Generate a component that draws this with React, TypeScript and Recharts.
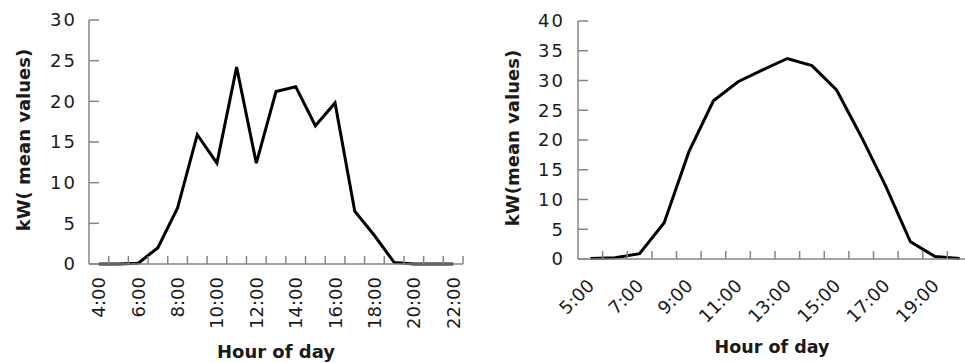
import { Label, Line, LineChart, XAxis, YAxis } from "recharts";

const FONT = "'DejaVu Sans', Verdana, sans-serif";
const AXIS = "#858585";
const INK = "#1a1a1a";

// left panel
const leftHours = [
  "4:00", "5:00", "6:00", "7:00", "8:00", "9:00", "10:00", "11:00", "12:00", "13:00",
  "14:00", "15:00", "16:00", "17:00", "18:00", "19:00", "20:00", "21:00", "22:00",
];
const leftKw = [0, 0, 0.1, 2, 6.9, 15.9, 12.4, 24.2, 12.4, 21.2, 21.8, 17.0, 19.8, 6.5, 3.5, 0.2, 0, 0, 0];
const leftTicks = [0, 5, 10, 15, 20, 25, 30];

// right panel
const rightHours = [
  "5:00", "6:00", "7:00", "8:00", "9:00", "10:00", "11:00", "12:00", "13:00", "14:00",
  "15:00", "16:00", "17:00", "18:00", "19:00", "20:00",
];
const rightKw = [0.1, 0.2, 0.9, 6.1, 18.0, 26.6, 29.8, 31.8, 33.7, 32.5, 28.4, 20.6, 12.2, 2.9, 0.4, 0.1];
const rightTicks = [0, 5, 10, 15, 20, 25, 30, 35, 40];

const leftData = leftHours.map((hour, i) => ({ hour, kw: leftKw[i] }));
const rightData = rightHours.map((hour, i) => ({ hour, kw: rightKw[i] }));

// ticks sit between categories, labels on every other category
function makeTick(band: number, angle: number) {
  return (props: any) => {
    const { x, y, index, payload, visibleTicksCount } = props;
    const left = x - band / 2;
    const isLast = index === visibleTicksCount - 1;
    const tx = angle === -90 ? x : x + 5;
    const ty = angle === -90 ? y + 13 : y + 28;
    return (
      <g>
        {index > 0 && <line x1={left} x2={left} y1={y} y2={y - 8} stroke={AXIS} strokeWidth={1.5} />}
        {isLast && <line x1={x + band / 2} x2={x + band / 2} y1={y} y2={y - 8} stroke={AXIS} strokeWidth={1.5} />}
        {index % 2 === 0 && (
          <text
            x={tx}
            y={ty}
            transform={`rotate(${angle} ${tx} ${ty})`}
            textAnchor="end"
            dominantBaseline={angle === -90 ? "central" : "auto"}
            fill={INK}
            fontSize={18}
            fontFamily={FONT}
          >
            {payload.value}
          </text>
        )}
      </g>
    );
  };
}

function yTitle(text: string, dx: number) {
  return (props: any) => {
    const vb = props.viewBox;
    const x = vb.x + dx;
    const y = vb.y + vb.height / 2 - 2;
    return (
      <text
        x={x}
        y={y}
        transform={`rotate(-90 ${x} ${y})`}
        textAnchor="middle"
        dominantBaseline="central"
        fontWeight="bold"
        fontSize={18}
        fontFamily={FONT}
        fill={INK}
      >
        {text}
      </text>
    );
  };
}

function xTitle(dx: number, size: number) {
  return (props: any) => {
    const vb = props.viewBox;
    return (
      <text
        x={vb.x + vb.width / 2 + dx}
        y={vb.y + 94}
        textAnchor="middle"
        fontWeight="bold"
        fontSize={size}
        fontFamily={FONT}
        fill={INK}
      >
        Hour of day
      </text>
    );
  };
}

const yTick = { fill: INK, fontSize: 18, fontFamily: FONT, letterSpacing: 2 };

export default function App() {
  return (
    <div style={{ position: "absolute", left: 0, top: 0, width: 965, height: 363, background: "#fff" }}>
      <div style={{ position: "absolute", left: 0, top: 0 }}>
        <LineChart width={480} height={363} data={leftData} margin={{ top: 20, right: 17, bottom: 0, left: 0 }}>
          <XAxis
            dataKey="hour"
            scale="band"
            interval={0}
            height={99}
            tickSize={0}
            tickMargin={0}
            tickLine={false}
            stroke={AXIS}
            strokeWidth={1.5}
            tick={makeTick(374 / 19, -90)}
          >
            <Label content={xTitle(0, 18)} />
          </XAxis>
          <YAxis
            width={89}
            domain={[0, 30]}
            ticks={leftTicks}
            tickSize={-10}
            tickMargin={22}
            stroke={AXIS}
            strokeWidth={1.5}
            tick={yTick}
          >
            <Label content={yTitle("kW( mean values)", 23)} />
          </YAxis>
          <Line
            dataKey="kw"
            stroke="#000"
            strokeWidth={3}
            dot={false}
            activeDot={false}
            isAnimationActive={false}
          />
        </LineChart>
      </div>
      <div style={{ position: "absolute", left: 480, top: 0, width: 485, height: 363, overflow: "hidden" }}>
        <LineChart width={500} height={363} data={rightData} margin={{ top: 21, right: 8, bottom: 0, left: 0 }}>
          <XAxis
            dataKey="hour"
            scale="band"
            interval={0}
            height={104}
            tickSize={0}
            tickMargin={0}
            tickLine={false}
            stroke={AXIS}
            strokeWidth={1.5}
            tick={makeTick(394 / 16, -45)}
          >
            <Label content={xTitle(-3, 17.5)} />
          </XAxis>
          <YAxis
            width={98}
            domain={[0, 40]}
            ticks={rightTicks}
            tickSize={-10}
            tickMargin={23}
            stroke={AXIS}
            strokeWidth={1.5}
            tick={yTick}
          >
            <Label content={yTitle("kW(mean values)", 32)} />
          </YAxis>
          <Line
            dataKey="kw"
            stroke="#000"
            strokeWidth={3}
            dot={false}
            activeDot={false}
            isAnimationActive={false}
          />
        </LineChart>
      </div>
    </div>
  );
}
